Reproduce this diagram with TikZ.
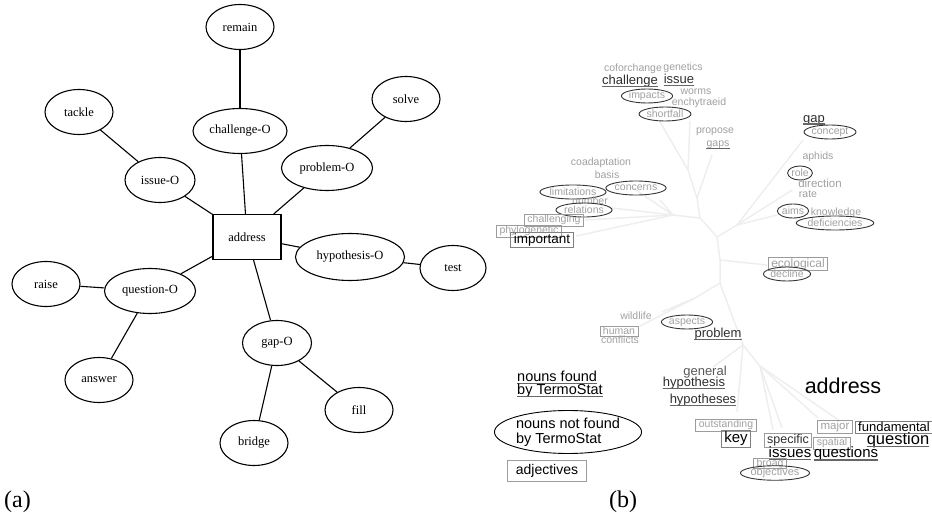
\documentclass[tikz,border=0pt]{standalone}
\usepackage{fontspec}
\setmainfont{Liberation Serif}
\newfontfamily\wordfont{Liberation Sans}
\usetikzlibrary{shapes.geometric}

\definecolor{lightword}{HTML}{A0A0A0}
\definecolor{darkword}{HTML}{2E2E2E}
\definecolor{branchgray}{HTML}{EEEEEE}
\definecolor{ulgray}{HTML}{666666}
\definecolor{boxgray}{HTML}{9C9C9C}
\definecolor{ringgray}{HTML}{353535}

\newcommand{\wsize}[1]{\wordfont\fontsize{#1}{#1}\selectfont}

\tikzset{
	vnode/.style={draw, ellipse, line width=1.1pt, inner sep=0pt, minimum width=68pt, minimum height=45pt, font=\fontsize{12.5}{13}\selectfont},
	headbox/.style={draw, rectangle, line width=1.1pt, inner sep=0pt, minimum width=68pt, minimum height=45pt, font=\fontsize{12.5}{13}\selectfont},
	link/.style={line width=1.1pt},
	branch/.style={draw=branchgray, line width=1.5pt},
	faint/.style={inner sep=0pt, text=lightword, font=\wsize{10.5}},
	ringed/.style={faint, draw=ringgray, ellipse, line width=0.9pt, minimum height=14pt},
	adjbox/.style={faint, draw=boxgray, line width=0.8pt, inner xsep=3pt, inner ysep=1.2pt},
	noun/.style={inner sep=0pt, text=darkword, font=\wsize{13},
		append after command={([yshift=-2pt]\tikzlastnode.base west) edge[draw=ulgray, line width=1.3pt] ([yshift=-2pt]\tikzlastnode.base east)}}
}

\begin{document}
\begin{tikzpicture}[x=1pt, y=-1pt]
	\useasboundingbox (0,0) rectangle (932,513);
	
	% (a)
	\node[headbox] (address) at (247,237) {address};
	\node[vnode] (remain) at (240,27) {remain};
	\node[vnode, minimum width=94pt] (challengeO) at (240,131) {challenge-O};
	\node[vnode] (tackle) at (79,112) {tackle};
	\node[vnode] (solve) at (406,99) {solve};
	\node[vnode, minimum width=70pt] (issueO) at (160,180) {issue-O};
	\node[vnode, minimum width=91pt] (problemO) at (327,168) {problem-O};
	\node[vnode, minimum width=109pt, minimum height=47pt] (hypothesisO) at (350,257) {hypothesis-O};
	\node[vnode, minimum width=66pt] (test) at (453,268) {test};
	\node[vnode] (raise) at (46,284) {raise};
	\node[vnode, minimum width=91pt] (questionO) at (150,291) {question-O};
	\node[vnode] (answer) at (99,380) {answer};
	\node[vnode, minimum width=69pt] (gapO) at (277,343) {gap-O};
	\node[vnode] (fill) at (359,410) {fill};
	\node[vnode] (bridge) at (254,443) {bridge};
	
	\draw[link] (remain) -- (challengeO);
	\draw[link] (challengeO) -- (address);
	\draw[link] (tackle) -- (issueO);
	\draw[link] (issueO) -- (address);
	\draw[link] (solve) -- (problemO);
	\draw[link] (problemO) -- (address);
	\draw[link] (address) -- (hypothesisO);
	\draw[link] (hypothesisO) -- (test);
	\draw[link] (address) -- (questionO);
	\draw[link] (questionO) -- (raise);
	\draw[link] (questionO) -- (answer);
	\draw[link] (address) -- (gapO);
	\draw[link] (gapO) -- (bridge);
	\draw[link] (gapO) -- (fill);
	
	\node[font=\fontsize{24}{24}\selectfont, inner sep=0pt, anchor=base west] (alabel) at (4,507) {(a)};
	
	% (b) tree
	\coordinate (r0) at (717,237);
	\coordinate (r1) at (700,218);
	\coordinate (r2) at (673,215);
	\coordinate (r3) at (697,198);
	\coordinate (r4) at (688,170);
	\coordinate (r5) at (737,225);
	\coordinate (r6) at (720,260);
	\coordinate (r7) at (720,283);
	\coordinate (r8) at (695,298);
	\coordinate (r9) at (743,345);
	\coordinate (r10) at (760,366);
	\draw[branch] (r0) -- (r1) -- (r2);
	\draw[branch] (r2) -- (660,200);
	\draw[branch] (r2) -- (630,186);
	\draw[branch] (r2) -- (612,208);
	\draw[branch] (r2) -- (585,220);
	\draw[branch] (r2) -- (576,236);
	\draw[branch] (r1) -- (r3) -- (712,155);
	\draw[branch] (r3) -- (r4) -- (660,122);
	\draw[branch] (r4) -- (690,121);
	\draw[branch] (r0) -- (r5) -- (777,215);
	\draw[branch] (r5) -- (792,190);
	\draw[branch] (r5) -- (803,140);
	\draw[branch] (r0) -- (r6) -- (767,265);
	\draw[branch] (r6) -- (r7) -- (r8) -- (662,312);
	\draw[branch] (r8) -- (640,326);
	\draw[branch] (r7) -- (r9) -- (713,367);
	\draw[branch] (r9) -- (737,412);
	\draw[branch] (r9) -- (r10) -- (773,430);
	\draw[branch] (r10) -- (782,428);
	\draw[branch] (r10) -- (840,421);
	\draw[branch] (r10) -- (818,418);
	
	% (b) words
	\node[faint] (coforchange) at (633,69) {coforchange};
	\node[faint] (genetics) at (683,68) {genetics};
	\node[noun] (challenge) at (630,81) {challenge};
	\node[noun] (issue) at (679,79) {issue};
	\node[ringed] (impacts) at (647,96) {impacts};
	\node[faint] (worms) at (696,92) {worms};
	\node[faint] (enchytraeid) at (699,103) {enchytraeid};
	\node[ringed] (shortfall) at (665,114) {shortfall};
	\node[faint] (propose) at (715,132) {propose};
	\node[noun, text=lightword, font=\wsize{10.5}] (gaps) at (718,145) {gaps};
	\node[faint] (coadaptation) at (601,163) {coadaptation};
	\node[faint] (basis) at (607,175) {basis};
	\node[ringed] (limitations) at (573,192) {limitations};
	\node[ringed] (concerns) at (636,188) {concerns};
	\node[faint] (number) at (590,201) {number};
	\node[ringed] (relations) at (584,210) {relations};
	\node[adjbox] (challenging) at (554,220) {challenging};
	\node[adjbox] (phylogenetic) at (529,231) {phylogenetic};
	\node[adjbox, text=black, font=\wsize{13.5}, draw=gray] (important) at (542,240) {important};
	
	\node[noun] (gap) at (814,120) {gap};
	\node[ringed] (concept) at (830,132) {concept};
	\node[faint] (aphids) at (818,157) {aphids};
	\node[ringed] (role) at (800,173) {role};
	\node[faint, font=\wsize{11.5}] (direction) at (820,183) {direction};
	\node[faint] (rate) at (808,194) {rate};
	\node[ringed] (aims) at (793,211) {aims};
	\node[faint] (knowledge) at (836,213) {knowledge};
	\node[ringed] (deficiencies) at (835,223) {deficiencies};
	\node[adjbox, font=\wsize{12}] (ecological) at (798,264) {ecological};
	\node[ringed] (decline) at (787,274) {decline};
	
	\node[faint] (wildlife) at (636,316) {wildlife};
	\node[adjbox] (human) at (619,331) {human};
	\node[faint] (conflicts) at (620,340) {conflicts};
	\node[ringed] (aspects) at (687,322) {aspects};
	\node[noun] (problem) at (718,334) {problem};
	\node[faint, text=darkword!80, font=\wsize{13}] (general) at (705,372) {general};
	\node[noun] (hypothesis) at (694,383) {hypothesis};
	\node[noun] (hypotheses) at (703,400) {hypotheses};
	\node[font=\wsize{21.5}, inner sep=0pt] (addressword) at (843,386) {address};
	\node[adjbox] (outstanding) at (726,425) {outstanding};
	\node[adjbox, text=black, font=\wsize{15}, draw=gray] (key) at (736,439) {key};
	\node[adjbox, text=darkword, font=\wsize{12.5}] (specific) at (788,440) {specific};
	\node[noun, text=black, font=\wsize{15}] (issues) at (790,452) {issues};
	\node[adjbox] (broad) at (770,463) {broad};
	\node[ringed, font=\wsize{11}] (objectives) at (775,473) {objectives};
	\node[adjbox, font=\wsize{11.5}] (major) at (835,427) {major};
	\node[adjbox] (spatial) at (832,443) {spatial};
	\node[adjbox, text=black, font=\wsize{13}, draw=gray] (fundamental) at (894,427) {fundamental};
	\node[noun, text=black, font=\wsize{16.5}] (question) at (898,440) {question};
	\node[noun, text=black, font=\wsize{15}] (questions) at (846,454) {questions};
	
	% legend
	\node[noun, text=black, font=\wsize{14.5}, anchor=west] (found) at (517,376) {nouns found};
	\node[noun, text=black, font=\wsize{14.5}, anchor=west] (foundby) at (517,391) {by TermoStat};
	\node[draw, ellipse, line width=0.9pt, inner sep=0pt, minimum width=134pt, minimum height=43pt, align=left, font=\wsize{14.5}] (notfound) at (568,432) {nouns not found\\by TermoStat};
	\node[draw=boxgray, line width=0.8pt, inner xsep=8pt, inner ysep=4pt, font=\wsize{14}] (adjlegend) at (547,471) {adjectives};
	
	\node[font=\fontsize{24}{24}\selectfont, inner sep=0pt, anchor=base west] (blabel) at (609,507) {(b)};
\end{tikzpicture}
\end{document}
